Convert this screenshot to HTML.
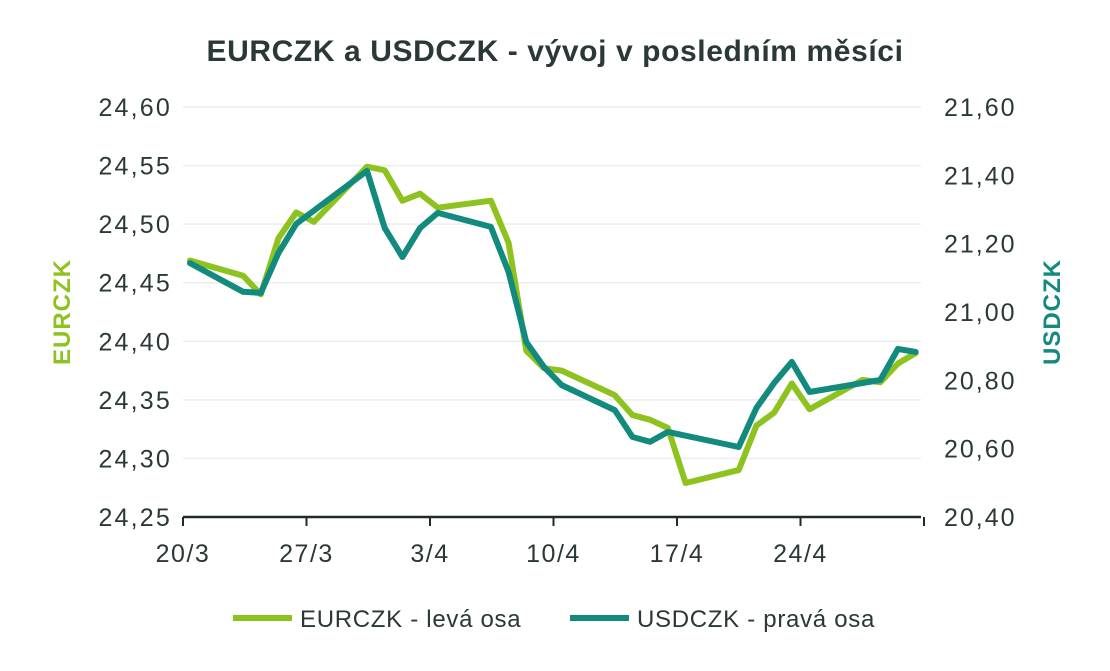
<!DOCTYPE html>
<html><head><meta charset="utf-8">
<style>
body{margin:0;background:#fff;width:1110px;height:666px;overflow:hidden;font-family:"Liberation Sans",sans-serif;}
</style></head>
<body>
<svg id="chart" width="1110" height="666" xmlns="http://www.w3.org/2000/svg" font-family="Liberation Sans, sans-serif">
<text x="555" y="61" text-anchor="middle" font-size="30" font-weight="bold" letter-spacing="0.6" fill="#2b3838">EURCZK a USDCZK - vývoj v posledním měsíci</text>
<g id="grid"></g><g id="axes"></g><g id="series"></g>
<text transform="translate(70,312) rotate(-90)" text-anchor="middle" font-size="24" font-weight="bold" letter-spacing="1" fill="#8dc21f">EURCZK</text>
<text transform="translate(1060,312) rotate(-90)" text-anchor="middle" font-size="24" font-weight="bold" letter-spacing="1" fill="#138a7e">USDCZK</text>
<g>
<line x1="233" y1="618" x2="292" y2="618" stroke="#8dc21f" stroke-width="6"/>
<text x="300" y="627" font-size="24" letter-spacing="0.7" fill="#2b3838">EURCZK - levá osa</text>
<line x1="570" y1="618" x2="629" y2="618" stroke="#138a7e" stroke-width="6"/>
<text x="637" y="627" font-size="24" letter-spacing="0.7" fill="#2b3838">USDCZK - pravá osa</text>
</g>
</svg>
<script>
const xLabels=["20/3","27/3","3/4","10/4","17/4","24/4"];
const leftTicks=[24.25,24.30,24.35,24.40,24.45,24.50,24.55,24.60];
const rightTicks=[20.40,20.60,20.80,21.00,21.20,21.40,21.60];
const eurDays=[0,3,4,5,6,7,10,11,12,13,14,17,18,19,20,21,24,25,26,27,28,31,32,33,34,35,38,39,40,41];
const eurVals=[24.469,24.456,24.440,24.488,24.510,24.502,24.549,24.546,24.520,24.526,24.514,24.520,24.484,24.392,24.377,24.375,24.354,24.337,24.333,24.326,24.279,24.290,24.328,24.339,24.364,24.342,24.367,24.365,24.381,24.390];
const usdDays=[0,3,4,5,6,10,11,12,13,14,17,18,19,20,21,24,25,26,27,31,32,33,34,35,39,40,41];
const usdVals=[21.143,21.059,21.056,21.173,21.258,21.413,21.246,21.161,21.246,21.290,21.249,21.117,20.912,20.839,20.786,20.713,20.634,20.620,20.649,20.605,20.719,20.792,20.854,20.766,20.801,20.892,20.883];

const NS="http://www.w3.org/2000/svg";
const X0=183,X1=921,Y0=517,Y1=107;
const xDay=d=>190+d*17.7;
const yL=v=>Y0-(v-24.25)/(24.60-24.25)*(Y0-Y1);
const yR=v=>Y0-(v-20.40)/(21.60-20.40)*(Y0-Y1);
function mk(tag,attrs,parent){const e=document.createElementNS(NS,tag);for(const k in attrs)e.setAttribute(k,attrs[k]);document.getElementById(parent).appendChild(e);return e;}
const fmt=v=>v.toFixed(2).replace('.',',');
leftTicks.forEach(v=>{
  if(v>24.25){const g=mk('line',{x1:X0,x2:X1,y1:yL(v),y2:yL(v),stroke:'#ececec','stroke-width':1.5},'grid');
  
  }
  const t=mk('text',{x:172,y:yL(v)+9,'text-anchor':'end','font-size':25,'letter-spacing':2.2,fill:'#2b3838'},'axes');
  t.textContent=fmt(v);
  
  
});
rightTicks.forEach(v=>{
  const t=mk('text',{x:944,y:yR(v)+9,'font-size':25,'letter-spacing':2,fill:'#2b3838'},'axes');
  t.textContent=fmt(v);
  
  
});
const ax=mk('line',{x1:X0,x2:X1,y1:Y0,y2:Y0,stroke:'#1f2a2a','stroke-width':2.5},'axes');


const tickXs=[];for(let i=0;i<=6;i++)tickXs.push(X0+i*123.5);
tickXs.forEach((x,i)=>{
  const tk=mk('line',{x1:x,x2:x,y1:Y0,y2:Y0+9,stroke:'#1f2a2a','stroke-width':2},'axes');
  
  
  if(i<xLabels.length){const t=mk('text',{x:x,y:562,'text-anchor':'middle','font-size':25,'letter-spacing':1.5,fill:'#2b3838'},'axes');
  t.textContent=xLabels[i];
  
  }
});
function line(days,vals,ys,color,name){
  const pts=days.map((d,i)=>xDay(d).toFixed(1)+','+ys(vals[i]).toFixed(1)).join(' ');
  const p=mk('polyline',{points:pts,fill:'none',stroke:color,'stroke-width':6,'stroke-linejoin':'round','stroke-linecap':'round'},'series');
  
  
}
line(eurDays,eurVals,yL,'#8dc21f','eurczk-line');
line(usdDays,usdVals,yR,'#138a7e','usdczk-line');
</script>
</body></html>
